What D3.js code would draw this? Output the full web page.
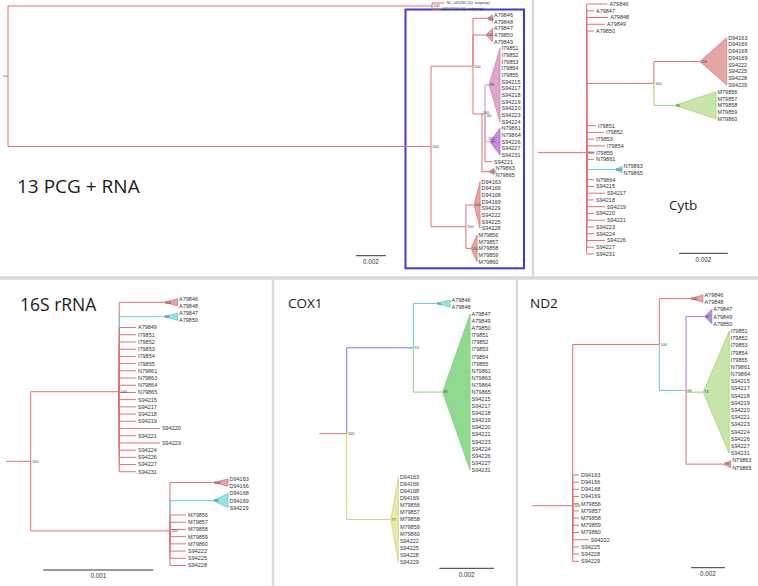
<!DOCTYPE html>
<html><head><meta charset="utf-8">
<script src="https://cdn.jsdelivr.net/npm/d3@7"></script>
<style>html,body{margin:0;padding:0;background:#fff}svg{display:block}</style>
</head><body>
<svg id="chart" width="758" height="586"></svg>
<script>
// ===================== DATA =====================
// Branch distances are in units of 0.001 substitutions/site.
// Leaf positions are given by their order in each leaves array.

const panelTitles = ["13 PCG + RNA", "Cytb", "16S rRNA", "COX1", "ND2"];
const scaleLabels = ["0.002", "0.002", "0.001", "0.002", "0.002"];
const scaleValues = [2, 2, 1, 2, 2];

// ---- 13 PCG + RNA ----
const tlLeaves = ["A79846","A79848","A79847","A79850","A79849","I79851","I79852","I79853","I79854","I79855",
  "S94215","S94217","S94218","S94219","S94220","S94223","S94224","N79861","N79864","S94226","S94227","S94231",
  "S94221","N79863","N79865","D94163","D94166","D94168","D94169","S94229","S94222","S94225","S94228",
  "M79856","M79857","M79858","M79859","M79860"];
const tlOutgroup = ["NC_045280.1(Q. outgroup)", "OK502203.1(Q. outgroup)"];
const tlNodes = [
  {id:"root", parent:null, d:0, stub:0.33, sup:null},
  {id:"og",  parent:"root", d:28.27, col:"red", sup:"100"},
  {id:"ing", parent:"root", d:28.2,  col:"red", sup:"100"},
  {id:"n1",  parent:"ing",  d:31.0,  col:"red", sup:"100"},
  {id:"n2",  parent:"n1",   d:31.6,  col:"red", sup:"100", y:14.85},
  {id:"n3",  parent:"n2",   d:31.8,  col:"pink", sup:"60", y:14.85},
  {id:"n4",  parent:"n3",   d:31.93, col:"orchid", sup:"100"},
  {id:"n5",  parent:"ing",  d:30.53, col:"red", sup:"100"}
];
const tlClades = [
  {parent:"n1", from:0,  to:1,  apex:31.93, tip:32.3, col:"red",    sup:"100"},
  {parent:"n1", from:2,  to:4,  apex:31.87, tip:32.3, col:"red",    sup:"100"},
  {parent:"n3", from:5,  to:16, apex:32.07, tip:32.8, col:"pink",   sup:"99"},
  {parent:"n4", from:17, to:21, apex:32.13, tip:32.8, col:"orchid", sup:"99"},
  {parent:"n2", from:23, to:24, apex:32.07, tip:32.4, col:"red",    sup:"100"},
  {parent:"n5", from:25, to:32, apex:31.07, tip:31.47, col:"red",   sup:"100"},
  {parent:"n5", from:33, to:37, apex:30.87, tip:31.27, col:"red",   sup:"100"}
];
const tlTips = [
  {parent:"n3", idx:22, d:32.27, col:"red", first:true},
  {parent:"og", idx:-1.8, d:29.1, col:"red", name:tlOutgroup[0], small:true},
  {parent:"og", idx:-0.9, d:28.8, col:"red", name:tlOutgroup[1], small:true}
];

// ---- Cytb ----
const cytbLeaves = ["A79846","A79847","A79848","A79849","A79850","D94163","D94166","D94168","D94169","S94222",
  "S94225","S94228","S94229","M79856","M79857","M79858","M79859","M79860","I79851","I79852","I79853","I79854",
  "I79855","N79861","N79863","N79865","N79864","S94215","S94217","S94218","S94219","S94220","S94221","S94223",
  "S94224","S94226","S94227","S94231"];
const cytbNodes = [
  {id:"root", parent:null, d:0, stub:2.0, sup:"100", y:22.0},
  {id:"c1", parent:"root", d:2.76, col:"red", sup:"100"}
];
const cytbClades = [
  {parent:"c1",   from:5,  to:12, apex:4.65, tip:5.75, col:"red",    sup:"100"},
  {parent:"c1",   from:13, to:17, apex:3.63, tip:5.31, col:"lgreen", sup:"96"},
  {parent:"root", from:24, to:25, apex:1.16, tip:1.45, col:"cyan",   sup:"100"}
];
// [leaf index, distance]
const cytbTipDist = [[0,0.85],[1,0.30],[2,0.88],[3,0.75],[4,0.30],[18,0.38],[19,0.71],[20,0.30],[21,0.75],
  [22,0.30],[23,0.30],[26,0.30],[27,0.30],[28,0.75],[29,0.30],[30,0.75],[31,0.30],[32,0.75],[33,0.30],
  [34,0.30],[35,0.75],[36,0.30],[37,0.30]];

// ---- 16S rRNA ----
const s16Leaves = ["A79846","A79848","A79847","A79850","A79849","I79851","I79852","I79853","I79854","I79855",
  "N79861","N79863","N79864","N79865","S94215","S94217","S94218","S94219","S94220","S94221","S94223","S94224",
  "S94226","S94227","S94231","D94163","D94166","D94168","D94169","S94229","M79856","M79857","M79858","M79859",
  "M79860","S94222","S94225","S94228"];
const s16Nodes = [
  {id:"root", parent:null, d:0, stub:0.2245, sup:"100"},
  {id:"u", parent:"root", d:0.805, col:"red", sup:"100", y:12.9},
  {id:"l", parent:"root", d:1.266, col:"red", sup:"100", y:32.2}
];
const s16Clades = [
  {parent:"u", from:0,  to:1,  apex:1.212, tip:1.335, col:"red",  sup:"100"},
  {parent:"u", from:2,  to:3,  apex:1.212, tip:1.335, col:"cyan", sup:"99"},
  {parent:"l", from:25, to:26, apex:1.66,  tip:1.794, col:"red",  sup:"100"},
  {parent:"l", from:27, to:29, apex:1.66,  tip:1.794, col:"cyan", sup:"99"}
];
// [leaf index, distance, parent]
const s16TipDist = [[4,0.957,"u"],[5,0.957,"u"],[6,0.957,"u"],[7,0.957,"u"],[8,0.957,"u"],[9,0.957,"u"],
  [10,0.957,"u"],[11,0.957,"u"],[12,0.957,"u"],[13,0.957,"u"],[14,0.957,"u"],[15,0.957,"u"],[16,0.957,"u"],
  [17,0.957,"u"],[18,1.175,"u"],[19,0.957,"u"],[20,1.175,"u"],[21,0.957,"u"],[22,0.957,"u"],[23,0.957,"u"],
  [24,0.957,"u"],[30,1.412,"l"],[31,1.412,"l"],[32,1.412,"l"],[33,1.412,"l"],[34,1.412,"l"],[35,1.412,"l"],
  [36,1.412,"l"],[37,1.412,"l"]];

// ---- COX1 ----
const coxLeaves = ["A79846","A79848","A79847","A79849","A79850","I79851","I79852","I79853","I79854","I79855",
  "N79861","N79863","N79864","N79865","S94215","S94217","S94218","S94219","S94220","S94221","S94223","S94224",
  "S94226","S94227","S94231","D94163","D94166","D94168","D94169","M79856","M79857","M79858","M79859","M79860",
  "S94222","S94225","S94228","S94229"];
const coxNodes = [
  {id:"root", parent:null, d:0, stub:1.0, sup:"100"},
  {id:"p", parent:"root", d:2.435, col:"blue", sup:"93"}
];
const coxClades = [
  {parent:"p",    from:0,  to:1,  apex:3.27, tip:3.78, col:"cyan",   sup:"91"},
  {parent:"p",    from:2,  to:24, apex:3.51, tip:4.51, col:"green",  sup:"96"},
  {parent:"root", from:25, to:37, apex:1.61, tip:1.89, col:"yellow", sup:"77"}
];

// ---- ND2 ----
const nd2Leaves = ["A79846","A79848","A79847","A79849","A79850","I79851","I79852","I79853","I79854","I79855",
  "N79861","N79864","S94215","S94217","S94218","S94219","S94220","S94221","S94223","S94224","S94226","S94227",
  "S94231","N79863","N79865","D94163","D94166","D94168","D94169","M79856","M79857","M79858","M79859","M79860",
  "S94222","S94225","S94228","S94229"];
const nd2Nodes = [
  {id:"root", parent:null, d:0, stub:2.41, sup:"100", y:29.28},
  {id:"q", parent:"root", d:5.094, col:"red",  sup:"100"},
  {id:"r", parent:"q",    d:6.665, col:"cyan", sup:"96"}
];
const nd2Clades = [
  {parent:"q", from:0,  to:1,  apex:6.9,  tip:7.66, col:"red",    sup:"100"},
  {parent:"r", from:2,  to:4,  apex:7.78, tip:8.18, col:"violet", sup:"87"},
  {parent:"r", from:5,  to:22, apex:7.68, tip:9.21, col:"lgreen", sup:"73"},
  {parent:"r", from:23, to:24, apex:8.9,  tip:9.29, col:"red",    sup:"99"}
];
const nd2TipDist = [[25,0.37],[26,0.37],[27,0.37],[28,0.37],[29,0.37],[30,0.37],[31,0.37],[32,0.37],
  [33,0.37],[34,0.94],[35,0.37],[36,0.37],[37,0.37]];

// ===================== STYLE / LAYOUT =====================
const pal = {
  red:    {line:"#e46e6e", fill:"#e6a5a5", edge:"#de7b7b"},
  cyan:   {line:"#5fcfd6", fill:"#97e0e3", edge:"#66cfd5"},
  lgreen: {line:"#9bd46f", fill:"#c8e6aa", edge:"#9ed474"},
  green:  {line:"#7fd07f", fill:"#90da90", edge:"#77cc77"},
  blue:   {line:"#7474e0"},
  yellow: {line:"#d4d46c", fill:"#e8e8a8", edge:"#d6d678"},
  violet: {line:"#a978e2", fill:"#b690e2", edge:"#a070dc"},
  pink:   {line:"#d48cbf", fill:"#dea6cb", edge:"#d083b8"},
  orchid: {line:"#d59cda", fill:"#c98ad9", edge:"#b86ccb"}
};
const LEAF_FONT = "'Liberation Sans', Arial, sans-serif";
const TITLE_FONT = "'Open Sans', 'Noto Sans', sans-serif";
// small nudges of crowded support labels (panel 0 only): [dx, dy] in px
const supNudge = {n2: [-0.5, -1.8], n3: [0.8, 1.8], n4: [0, -3]};

const panels = [
  {nodes:tlNodes, clades:tlClades, tips:tlTips, leaves:tlLeaves, nudge:supNudge,
   x0:8, k:15, y0:15, y1:261.7, bar:[356,255.7], title:[17,192.5,19]},
  {nodes:cytbNodes, clades:cytbClades, leaves:cytbLeaves,
   tips:cytbTipDist.map(([i,d]) => ({parent:"root", idx:i, d, col:"red"})),
   x0:586.7, k:24.35, y0:4, y1:254, bar:[679,253.3], title:[669,210,13.5]},
  {nodes:s16Nodes, clades:s16Clades, leaves:s16Leaves,
   tips:s16TipDist.map(([i,d,p]) => ({parent:p, idx:i, d, col:"red"})),
   x0:30.7, k:110, y0:298.7, y1:565.5, bar:[43.3,570], title:[20,310.5,17.5]},
  {nodes:coxNodes, clades:coxClades, leaves:coxLeaves, tips:[],
   x0:346.7, k:27.35, y0:300, y1:562, bar:[439.3,568.3], title:[288,307.5,13.5]},
  {nodes:nd2Nodes, clades:nd2Clades, leaves:nd2Leaves,
   tips:nd2TipDist.map(([i,d]) => ({parent:"root", idx:i, d, col:"red"})),
   x0:572.7, k:17, y0:295, y1:561.3, bar:[691,567.7], title:[530,307.5,13.5]}
];

// ===================== DRAW =====================
const svg = d3.select("#chart");
svg.append("rect").attr("width",758).attr("height",586).attr("fill","#fff");

// panel separators
const sep = svg.append("g").attr("stroke","#dadada").attr("fill","none");
sep.append("line").attr("x1",0).attr("x2",758).attr("y1",278).attr("y2",278).attr("stroke-width",3.5);
sep.append("line").attr("x1",533).attr("x2",533).attr("y1",0).attr("y2",278).attr("stroke-width",2.5);
sep.append("line").attr("x1",273).attr("x2",273).attr("y1",278).attr("y2",586).attr("stroke-width",2.5);
sep.append("line").attr("x1",517).attr("x2",517).attr("y1",278).attr("y2",586).attr("stroke-width",2.5);

// blue highlight box in the first panel
svg.append("rect").attr("x",405.5).attr("y",9.5).attr("width",118.5).attr("height",258.8)
  .attr("fill","none").attr("stroke","#3c3cd8").attr("stroke-width",2);

function drawTree(P, pi) {
  const g = svg.append("g");
  const x = d3.scaleLinear().domain([0, 1]).range([P.x0, P.x0 + P.k]);
  const y = d3.scaleLinear().domain([0, P.leaves.length - 1]).range([P.y0, P.y1]);
  const nudge = P.nudge || {};

  const map = new Map();
  P.nodes.forEach(n => map.set(n.id, Object.assign({}, n, {kids: [], kind: "node"})));
  P.nodes.forEach(n => { if (n.parent) map.get(n.parent).kids.push(map.get(n.id)); });
  P.clades.forEach(c => map.get(c.parent).kids.push(Object.assign({}, c, {kind:"clade", yv: y((c.from + c.to) / 2), xv: x(c.apex)})));
  P.tips.forEach(t => map.get(t.parent).kids.push(Object.assign({}, t, {kind:"tip", yv: y(t.idx), xv: x(t.d)})));

  function nodeY(n) {
    if (n.yv != null) return n.yv;
    n.xv = x(n.d);
    n.kids.forEach(k => { if (k.kind === "node") nodeY(k); });
    if (n.y != null) n.yv = y(n.y);
    else {
      const ys = n.kids.map(k => k.yv);
      n.yv = (d3.min(ys) + d3.max(ys)) / 2;
    }
    return n.yv;
  }
  const root = map.get("root");
  nodeY(root);

  const lines = g.append("g").attr("fill","none").attr("stroke-width",1);
  // root stub
  lines.append("path").attr("d", `M${x(-root.stub)},${root.yv}H${root.xv}`).attr("stroke", pal.red.line);

  const all = [...map.values()];
  all.forEach(n => {
    const kids = n.kids.slice().sort((a, b) => ((a.first ? -1 : 0) - (b.first ? -1 : 0)) || (a.yv - b.yv));
    kids.forEach(k => {
      lines.append("path")
        .attr("d", `M${n.xv},${n.yv}V${k.yv}H${k.xv}`)
        .attr("stroke", pal[k.col].line);
    });
  });

  // collapsed clades
  P.clades.forEach(c => {
    const ym = y((c.from + c.to) / 2);
    g.append("path")
      .attr("d", `M${x(c.apex)},${ym}L${x(c.tip)},${y(c.from)}L${x(c.tip)},${y(c.to)}Z`)
      .attr("fill", pal[c.col].fill).attr("stroke", pal[c.col].edge).attr("stroke-width", 0.8);
    d3.range(c.from, c.to + 1).forEach(i => {
      g.append("text").attr("x", x(c.tip) + 1.5).attr("y", y(i)).attr("dy","0.35em")
        .attr("font-family", LEAF_FONT).attr("font-size", 5.5).attr("fill","#333").text(P.leaves[i]);
    });
  });

  // tips
  P.tips.forEach(t => {
    g.append("text").attr("x", x(t.d) + 2).attr("y", y(t.idx)).attr("dy","0.35em")
      .attr("font-family", LEAF_FONT).attr("font-size", t.small ? 3.6 : 5.5).attr("fill","#333")
      .text(t.name || P.leaves[t.idx]);
  });

  // support values
  const sg = g.append("g").attr("font-family", LEAF_FONT).attr("font-size", 3.8).attr("fill","#444");
  all.forEach(n => {
    if (!n.sup) return;
    const [dx, dy] = nudge[n.id] || [0, 0];
    sg.append("text").attr("x", n.xv + 1.3 + dx).attr("y", n.yv + dy).attr("dy","0.35em").text(n.sup);
  });
  P.clades.forEach(c => {
    if (c.sup) sg.append("text").attr("x", x(c.apex) + 0.8).attr("y", y((c.from + c.to) / 2)).attr("dy","0.35em").text(c.sup);
  });

  // scale bar
  const [bx, by] = P.bar;
  const len = x(scaleValues[pi]) - x(0);
  g.append("line").attr("x1", bx).attr("x2", bx + len).attr("y1", by).attr("y2", by)
    .attr("stroke","#333").attr("stroke-width",1);
  g.append("text").attr("x", bx + len / 2).attr("y", by + 8.3).attr("text-anchor","middle")
    .attr("font-family", LEAF_FONT).attr("font-size", 6.3).attr("fill","#333").text(scaleLabels[pi]);

  // title
  const [tx, ty, ts] = P.title;
  svg.append("text").attr("x", tx).attr("y", ty).attr("font-family", TITLE_FONT)
    .attr("font-size", ts).attr("fill","#1a1a1a").text(panelTitles[pi]);
}

panels.forEach(drawTree);
</script>
</body></html>
